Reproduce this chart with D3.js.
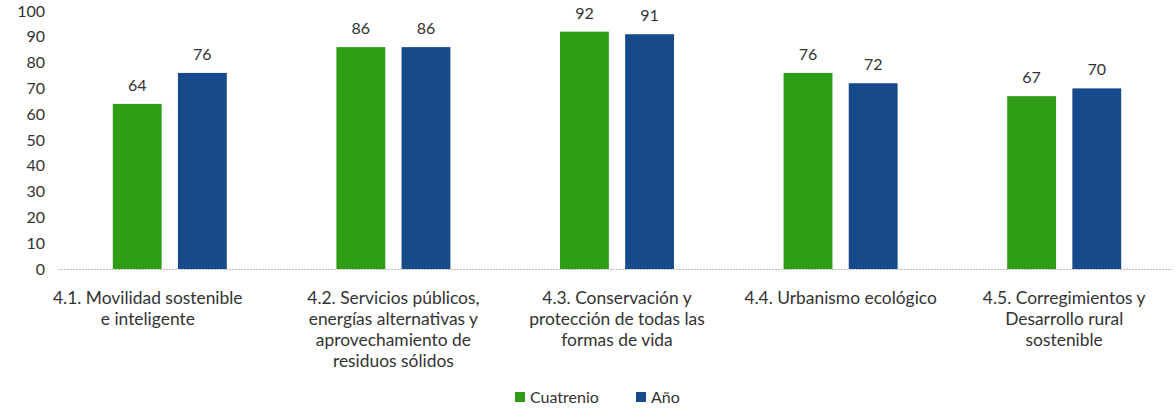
<!DOCTYPE html>
<html><head><meta charset="utf-8">
<script src="https://cdn.jsdelivr.net/npm/d3@7"></script>
<style>body{margin:0;background:#fff}svg{display:block}</style>
</head><body><svg id="c" width="1175" height="411"></svg>
<script>
const categories = [
  ["4.1. Movilidad sostenible","e inteligente"],
  ["4.2. Servicios públicos,","energías alternativas y","aprovechamiento de","residuos sólidos"],
  ["4.3. Conservación y","protección de todas las","formas de vida"],
  ["4.4. Urbanismo ecológico"],
  ["4.5. Corregimientos y","Desarrollo rural","sostenible"]
];
const seriesNames = ["Cuatrenio","Año"];
const cuatrenio = [64,86,92,76,67];
const anio = [76,86,91,72,70];
const yTicks = [0,10,20,30,40,50,60,70,80,90,100];
const colors = ["#2f9e16","#174a8a"];

const svg = d3.select("#c");
const font = "Lato, 'Open Sans', sans-serif";
const x = d3.scaleBand().domain(d3.range(categories.length)).range([58,1176]);
const y = d3.scaleLinear().domain([0,100]).range([269,11]);
const xs = d3.scaleBand().domain([0,1]).range([0,114]).paddingInner(0.25);

svg.append("g").selectAll("text").data(yTicks).join("text")
  .attr("x",45).attr("y",d=>y(d)).attr("dy","0.35em").attr("text-anchor","end")
  .attr("font-family",font).attr("font-size",16).attr("fill","#333").text(d=>d);

svg.append("line").attr("x1",58).attr("x2",1172).attr("y1",y(0)+0.5).attr("y2",y(0)+0.5)
  .attr("stroke","#bbb").attr("stroke-width",1).attr("stroke-dasharray","2,1");

const data = categories.map((c,i)=>({i, vals:[cuatrenio[i],anio[i]]}));
const g = svg.append("g").selectAll("g").data(data).join("g")
  .attr("transform",d=>`translate(${x(d.i)+x.bandwidth()/2-57},0)`);
g.selectAll("rect").data(d=>d.vals.map((v,k)=>({v,k}))).join("rect")
  .attr("x",d=>xs(d.k)).attr("width",xs.bandwidth())
  .attr("y",d=>y(d.v)).attr("height",d=>y(0)-y(d.v)).attr("fill",d=>colors[d.k]);
g.selectAll("text.v").data(d=>d.vals.map((v,k)=>({v,k}))).join("text").attr("class","v")
  .attr("x",d=>xs(d.k)+xs.bandwidth()/2).attr("y",d=>y(d.v)-13)
  .attr("text-anchor","middle").attr("font-family",font).attr("font-size",16).attr("fill","#333").text(d=>d.v);

const lab = svg.append("g").selectAll("text").data(categories).join("text")
  .attr("x",(d,i)=>x(i)+x.bandwidth()/2 - (i===0?22:0)).attr("y",304).attr("text-anchor","middle")
  .attr("font-family",font).attr("font-size",17.4).attr("fill","#333");
lab.selectAll("tspan").data(d=>d).join("tspan")
  .attr("x",function(){return this.parentNode.getAttribute("x");})
  .attr("dy",(d,j)=>j?21:0).text(d=>d);

const leg = svg.append("g");
const lx = [515,636];
seriesNames.forEach((n,k)=>{
  leg.append("rect").attr("x",lx[k]).attr("y",392).attr("width",10).attr("height",10).attr("fill",colors[k]);
  leg.append("text").attr("x",lx[k]+15).attr("y",397).attr("dy","0.35em")
    .attr("font-family",font).attr("font-size",16).attr("fill","#333").text(n);
});
</script></body></html>
